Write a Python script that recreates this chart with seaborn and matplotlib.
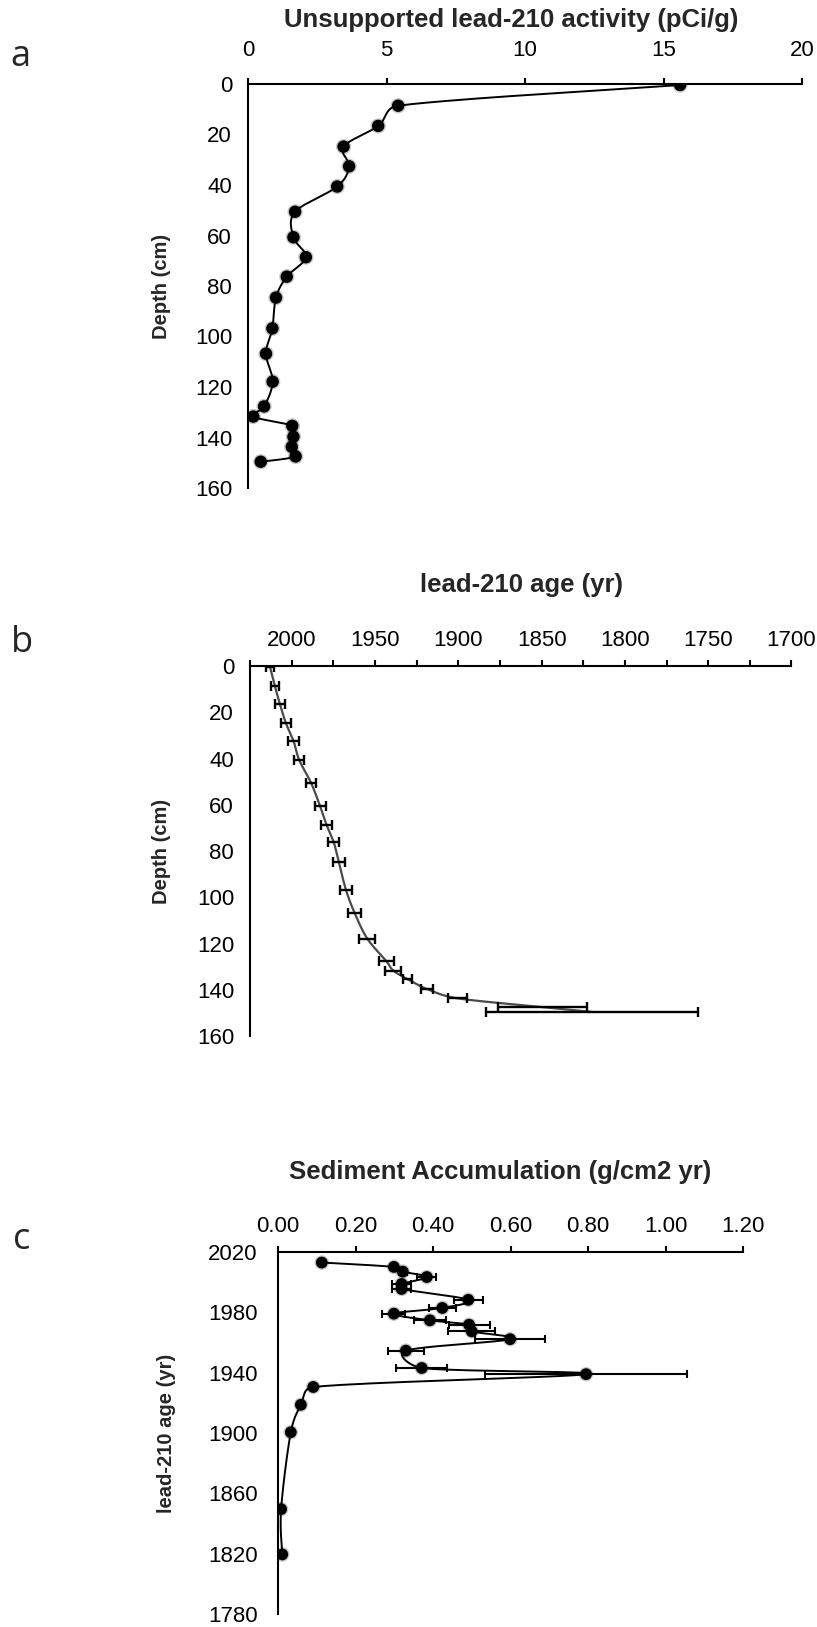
import numpy as np
import matplotlib
matplotlib.use("Agg")
import matplotlib.pyplot as plt
import seaborn as sns
from matplotlib.ticker import FuncFormatter, FixedLocator

# ---- data -----------------------------------------------------------------
# Mid-depth of each core slice (cm)
depth_cm = [0.4, 8.6, 16.6, 24.8, 32.6, 40.6, 50.6, 60.7, 68.6, 76.3, 84.6,
            96.8, 106.8, 117.9, 127.7, 131.7, 135.4, 139.7, 143.7, 147.5, 149.6]
# Unsupported (excess) 210Pb activity, pCi/g
pb210_excess = [15.6, 5.42, 4.70, 3.45, 3.65, 3.22, 1.70, 1.64, 2.09, 1.40, 1.01,
                0.88, 0.65, 0.89, 0.58, 0.19, 1.60, 1.64, 1.58, 1.72, 0.46]
# 210Pb age of each slice (calendar year) and its 1-sigma uncertainty
age_year = [2013.0, 2010.1, 2007.0, 2003.4, 1998.8, 1995.5, 1988.3, 1982.9, 1979.1,
            1974.7, 1971.8, 1967.4, 1962.2, 1954.6, 1943.1, 1939.0, 1930.5, 1918.7,
            1900.5, 1849.5, 1819.5]
age_err = [2.5, 2.5, 2.8, 3.1, 3.5, 3.2, 2.8, 3.3, 3.4, 3.4, 3.6,
           3.8, 4.0, 4.7, 4.4, 4.8, 2.8, 3.8, 5.9, 26.7, 63.6]
# Mass accumulation rate, g/cm2/yr, and its uncertainty
sed_acc = [0.113, 0.299, 0.322, 0.384, 0.319, 0.319, 0.491, 0.424, 0.299, 0.392, 0.493,
           0.500, 0.599, 0.330, 0.371, 0.795, 0.091, 0.059, 0.033, 0.008, 0.011]
sed_acc_err = [0.0, 0.008, 0.010, 0.025, 0.025, 0.025, 0.038, 0.035, 0.030, 0.041, 0.053,
               0.061, 0.091, 0.046, 0.066, 0.260, 0.0, 0.0, 0.0, 0.005, 0.006]

# axis tick values
act_ticks = [0, 5, 10, 15, 20]
depth_ticks = [0, 20, 40, 60, 80, 100, 120, 140, 160]
age_major = [2000, 1950, 1900, 1850, 1800, 1750, 1700]
age_minor = [2025, 1975, 1925, 1875, 1825, 1775, 1725]
sar_ticks = [0.0, 0.2, 0.4, 0.6, 0.8, 1.0, 1.2]
year_major = [2020, 1980, 1940, 1900, 1860, 1820, 1780]
year_minor = [2000, 1960, 1920, 1880, 1840, 1800]

# ---- style ------------------------------------------------------------------
sns.set_theme(style="white")
plt.rcParams["font.family"] = ["Liberation Sans", "DejaVu Sans"]
plt.rcParams["axes.linewidth"] = 1.5
for k in ("xtick.major.width", "ytick.major.width", "xtick.minor.width", "ytick.minor.width"):
    plt.rcParams[k] = 1.5

W, H = 817, 1627
DPI = 100
fig = plt.figure(figsize=(W / DPI, H / DPI), dpi=DPI)
fig.patch.set_facecolor("white")

TICK_FS = 16
TITLE_FS = 18.5
YLABEL_FS = 14.5
LETTER_FS = 26


def axes_px(left, right, top, bottom):
    return fig.add_axes([left / W, 1 - bottom / H, (right - left) / W, (bottom - top) / H])


def style_axes(ax):
    ax.set_facecolor("white")
    for side in ("right", "bottom"):
        ax.spines[side].set_visible(False)
    for side in ("left", "top"):
        ax.spines[side].set_color("black")
        ax.spines[side].set_linewidth(1.5)
    ax.xaxis.set_ticks_position("top")
    ax.xaxis.set_label_position("top")
    ax.tick_params(axis="both", which="both", direction="out", length=4.5,
                   color="black", labelcolor="black", labelsize=TICK_FS)
    ax.grid(False)


def smooth_curve(ax, x, y, n=30, clamp=0.5):
    """Catmull-Rom Bezier through the points (display space), with the
    control arm limited to a fraction of the segment length."""
    pts = ax.transData.transform(np.column_stack([x, y]))
    P = np.vstack([pts[0], pts, pts[-1]])
    t = np.linspace(0, 1, n)[:, None]

    def arm(v, L):
        nrm = np.hypot(*v)
        if nrm == 0:
            return v * 0
        return v * min(1.0, clamp * L / nrm)

    out = []
    for i in range(1, len(P) - 2):
        p0, p1, p2, p3 = P[i - 1], P[i], P[i + 1], P[i + 2]
        L = np.hypot(*(p2 - p1))
        c1 = p1 + arm((p2 - p0) / 6.0, L)
        c2 = p2 - arm((p3 - p1) / 6.0, L)
        seg = (1 - t) ** 3 * p1 + 3 * (1 - t) ** 2 * t * c1 + 3 * (1 - t) * t ** 2 * c2 + t ** 3 * p2
        out.append(seg if i == 1 else seg[1:])
    return ax.transData.inverted().transform(np.vstack(out))


def soft_markers(ax, x, y, size=80):
    sns.scatterplot(x=x, y=y, ax=ax, s=size * 1.5, color="black", alpha=0.22,
                    edgecolor="none", zorder=4, legend=False)
    sns.scatterplot(x=x, y=y, ax=ax, s=size, color="black",
                    edgecolor="none", zorder=5, legend=False)


# ---- panel a: excess 210Pb activity vs depth -----------------------------------
ax_a = axes_px(248, 802, 84, 488)
style_axes(ax_a)
ax_a.set_xlim(0, 20)
ax_a.set_ylim(160, 0)
ax_a.xaxis.set_major_locator(FixedLocator(act_ticks))
ax_a.yaxis.set_major_locator(FixedLocator(depth_ticks))
ax_a.tick_params(axis="x", pad=12)
ax_a.tick_params(axis="y", pad=7)
curve = smooth_curve(ax_a, pb210_excess, depth_cm)
sns.lineplot(x=curve[:, 0], y=curve[:, 1], ax=ax_a, sort=False, estimator=None,
             color="black", linewidth=1.4, zorder=3)
soft_markers(ax_a, pb210_excess, depth_cm)
ax_a.set_xlim(0, 20)
ax_a.set_ylim(160, 0)
ax_a.set_ylabel("Depth (cm)", fontsize=YLABEL_FS, fontweight="bold")
ax_a.yaxis.set_label_coords((171 - 248) / 554, 0.5)
ax_a.set_xlabel("")

# ---- panel b: 210Pb age vs depth -----------------------------------------------
ax_b = axes_px(250, 791.5, 666, 1036)
style_axes(ax_b)
ax_b.set_xlim(2025, 1700)
ax_b.set_ylim(160, 0)
ax_b.xaxis.set_major_locator(FixedLocator(age_major))
ax_b.xaxis.set_minor_locator(FixedLocator(age_minor))
ax_b.yaxis.set_major_locator(FixedLocator(depth_ticks))
ax_b.tick_params(axis="x", pad=6)
ax_b.tick_params(axis="y", pad=7)
curve_b = smooth_curve(ax_b, age_year, depth_cm)
sns.lineplot(x=curve_b[:, 0], y=curve_b[:, 1], ax=ax_b, sort=False, estimator=None,
             color="#4a4a4a", linewidth=1.6, zorder=3)
ax_b.errorbar(age_year, depth_cm, xerr=age_err, fmt="none", ecolor="black",
              elinewidth=1.7, capsize=3.4, capthick=1.7, zorder=4)
ax_b.set_xlim(2025, 1700)
ax_b.set_ylim(160, 0)
ax_b.set_ylabel("Depth (cm)", fontsize=YLABEL_FS, fontweight="bold")
ax_b.yaxis.set_label_coords((171 - 250) / 541.5, 0.5)
ax_b.set_xlabel("")

# ---- panel c: sediment accumulation vs age --------------------------------------
ax_c = axes_px(278, 743, 1252, 1614)
style_axes(ax_c)
ax_c.set_xlim(0, 1.2)
ax_c.set_ylim(1780, 2020)
ax_c.xaxis.set_major_locator(FixedLocator(sar_ticks))
ax_c.xaxis.set_major_formatter(FuncFormatter(lambda v, p: f"{v:.2f}"))
ax_c.yaxis.set_major_locator(FixedLocator(year_major))
ax_c.yaxis.set_minor_locator(FixedLocator(year_minor))
ax_c.tick_params(axis="x", pad=6)
ax_c.tick_params(axis="y", pad=10)
curve_c = smooth_curve(ax_c, sed_acc, age_year)
sns.lineplot(x=curve_c[:, 0], y=curve_c[:, 1], ax=ax_c, sort=False, estimator=None,
             color="black", linewidth=1.4, zorder=3)
ax_c.errorbar(sed_acc, age_year, xerr=sed_acc_err, fmt="none", ecolor="black",
              elinewidth=1.5, capsize=3.2, capthick=1.5, zorder=4)
soft_markers(ax_c, sed_acc, age_year, size=72)
ax_c.set_xlim(0, 1.2)
ax_c.set_ylim(1780, 2020)
ax_c.set_ylabel("lead-210 age (yr)", fontsize=YLABEL_FS, fontweight="bold")
ax_c.yaxis.set_label_coords((176 - 278) / 465, 0.5)
ax_c.set_xlabel("")

# ---- titles and panel letters ----------------------------------------------------
fig.text(511 / W, 1 - 20 / H, "Unsupported lead-210 activity (pCi/g)",
         ha="center", va="center", fontsize=TITLE_FS, fontweight="bold")
fig.text(521 / W, 1 - 585 / H, "lead-210 age (yr)",
         ha="center", va="center", fontsize=TITLE_FS, fontweight="bold")
fig.text(500 / W, 1 - 1172 / H, "Sediment Accumulation (g/cm2 yr)",
         ha="center", va="center", fontsize=TITLE_FS, fontweight="bold")

letter_font = ["Open Sans", "DejaVu Sans"]
fig.text(20 / W, 1 - 57 / H, "a", ha="center", va="center", fontsize=LETTER_FS, family=letter_font)
fig.text(22 / W, 1 - 643 / H, "b", ha="center", va="center", fontsize=LETTER_FS, family=letter_font)
fig.text(22 / W, 1 - 1240 / H, "c", ha="center", va="center", fontsize=LETTER_FS, family=letter_font)

fig.savefig("out.png", dpi=DPI, facecolor="white")
